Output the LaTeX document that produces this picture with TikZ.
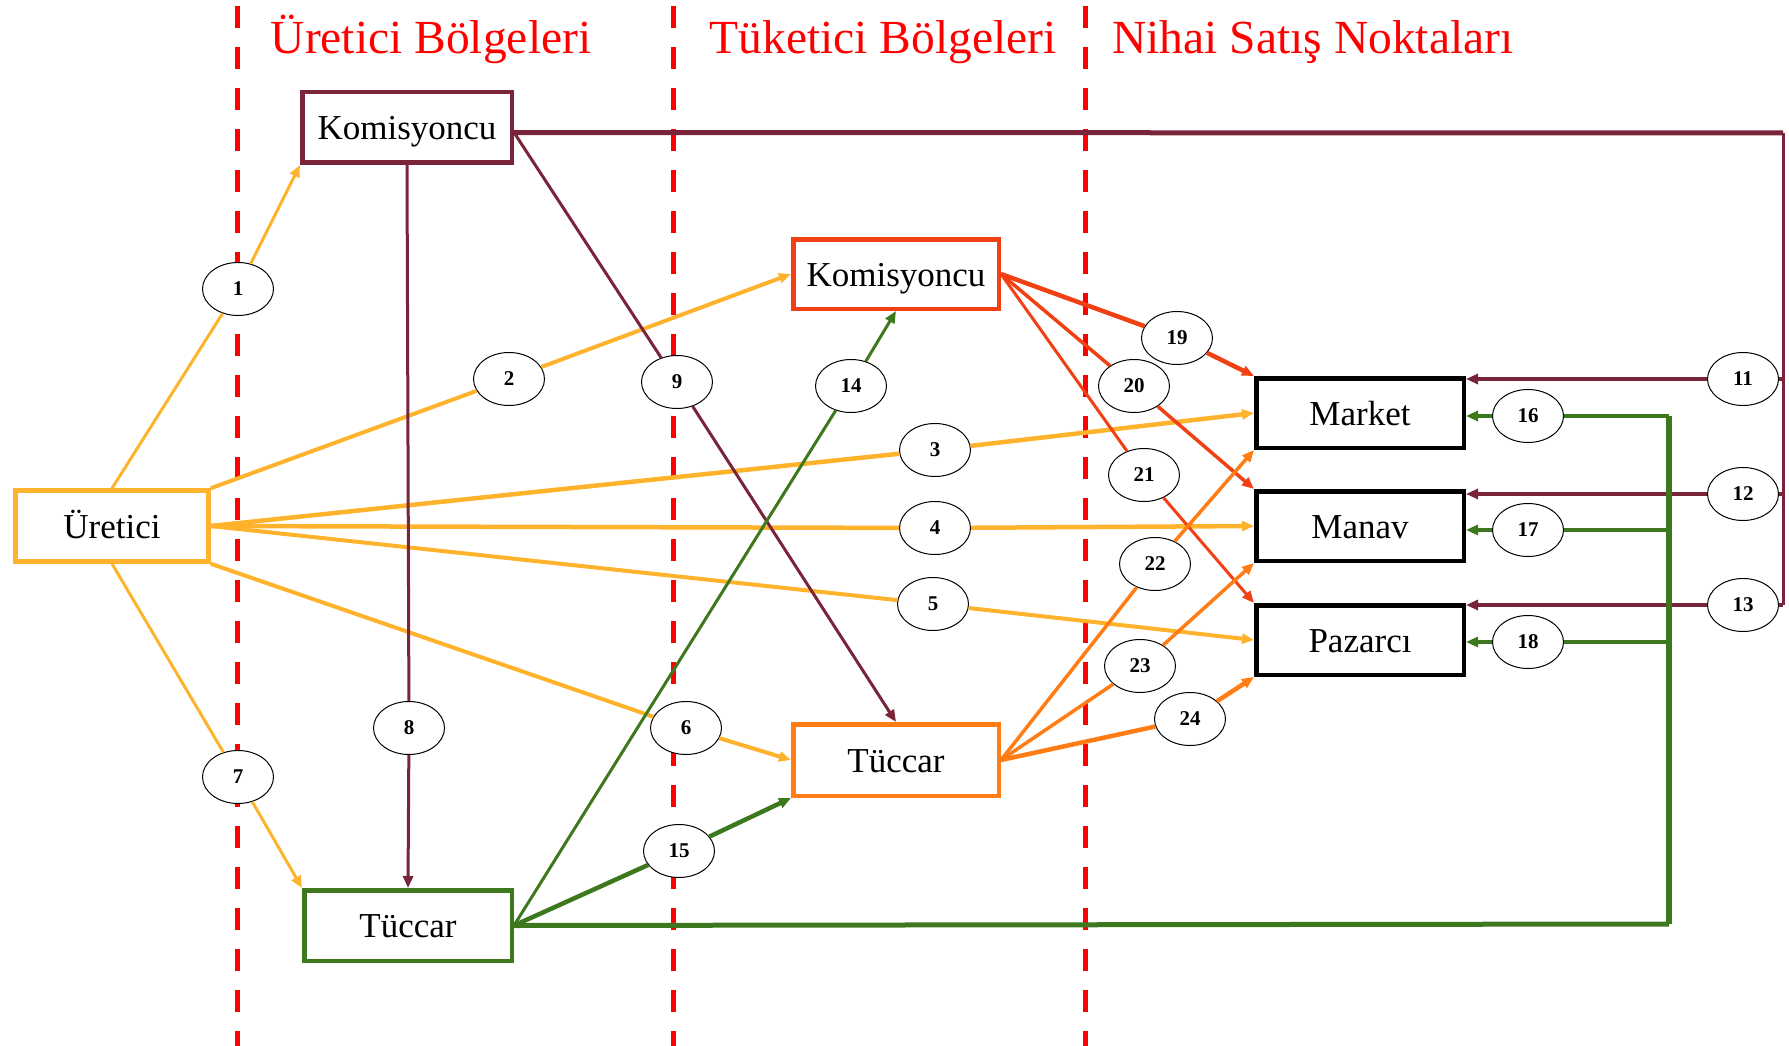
\documentclass[tikz,border=0pt]{standalone}
\usepackage{fontspec}
\setmainfont{Liberation Serif}
\usetikzlibrary{arrows.meta,calc,shapes.geometric}

\definecolor{sari}{RGB}{255,178,44}
\definecolor{bordo}{RGB}{122,36,58}
\definecolor{kiremit}{RGB}{240,64,20}
\definecolor{turuncu}{RGB}{255,125,20}
\definecolor{yesil}{RGB}{62,120,30}
\definecolor{kirmizi}{RGB}{255,0,0}

\tikzset{
  kutu/.style={draw, line width=4.5pt, fill=white, inner sep=0pt, minimum width=207.5pt, minimum height=69.5pt, text height=24pt, text depth=0pt, font=\fontsize{35}{40}\selectfont},
  numara/.style={ellipse, draw=black, line width=1pt, fill=white, inner sep=0pt, minimum width=71pt, minimum height=53pt, font=\bfseries\fontsize{21}{24}\selectfont},
  ok/.style={-{Triangle[length=12pt,width=10pt]}},
  baslik/.style={text=kirmizi, anchor=base, inner sep=0pt, font=\fontsize{47.5}{56}\selectfont},
  sinir/.style={draw=kirmizi, line width=5pt, dash pattern=on 22pt off 19pt},
}

\begin{document}
\begin{tikzpicture}[x=1pt,y=1pt,yscale=-1,xscale=1]
\useasboundingbox (0,0) rectangle (1789,1046);

%Dashed Lines
\draw[sinir] (237,6) -- (237,1046);
\draw[sinir] (673,6) -- (673,1046);
\draw[sinir] (1085,6) -- (1085,1046);

% Text Node
\node[baslik] (bas1) at (431,54) {Üretici Bölgeleri};
\node[baslik] (bas2) at (883,54) {Tüketici Bölgeleri};
\node[baslik] (bas3) at (1313,54) {Nihai Satış Noktaları};

%Shape: Rectangle
\node[kutu, draw=sari, minimum width=193pt, minimum height=71pt] (ure) at (112,526) {Üretici};
\node[kutu, draw=bordo, minimum width=209.5pt, minimum height=70.5pt] (kom1) at (407,127.5) {Komisyoncu};
\node[kutu, draw=yesil, minimum height=70.5pt] (tuc1) at (408,925.5) {Tüccar};
\node[kutu, draw=kiremit, minimum width=205.5pt] (kom2) at (896,274) {Komisyoncu};
\node[kutu, draw=turuncu, minimum width=205.5pt, minimum height=71.5pt] (tuc2) at (896,760) {Tüccar};
\node[kutu] (market) at (1360,413) {Market};
\node[kutu] (manav) at (1360,526) {Manav};
\node[kutu] (pazarci) at (1360,640) {Pazarcı};

%Shape: Ellipse
\node[numara] (c1) at (238,289) {1};
\node[numara] (c2) at (509,379) {2};
\node[numara] (c3) at (935,450) {3};
\node[numara] (c4) at (935,528) {4};
\node[numara] (c5) at (933,604) {5};
\node[numara] (c6) at (686,728) {6};
\node[numara] (c7) at (238,777) {7};
\node[numara] (c8) at (409,728) {8};
\node[numara] (c9) at (677,382) {9};
\node[numara] (c11) at (1743,379) {11};
\node[numara] (c12) at (1743,494) {12};
\node[numara] (c13) at (1743,605) {13};
\node[numara] (c14) at (851,386) {14};
\node[numara] (c15) at (679,851) {15};
\node[numara] (c16) at (1528,416) {16};
\node[numara] (c17) at (1528,530) {17};
\node[numara] (c18) at (1528,642) {18};
\node[numara] (c19) at (1177,338) {19};
\node[numara] (c20) at (1134,386) {20};
\node[numara] (c21) at (1144,475) {21};
\node[numara] (c22) at (1155,564) {22};
\node[numara] (c23) at (1140,666) {23};
\node[numara] (c24) at (1190,719) {24};

\coordinate (k1e) at ($(kom1.east)+(0,5)$);
\coordinate (kr) at (1783,133);
\coordinate (gv) at (1669,924);

%Straight Lines
\draw[ok, sari, line width=3pt] (ure.north) -- (c1) -- (kom1.south west);
\draw[ok, sari, line width=4pt] (ure.north east) -- (c2) -- (kom2.west);
\draw[ok, sari, line width=4.5pt] (ure.east) -- (c3) -- (market.west);
\draw[ok, sari, line width=4.5pt] (ure.east) -- (c4) -- (manav.west);
\draw[ok, sari, line width=4pt] (ure.east) -- (c5) -- (pazarci.west);
\draw[ok, sari, line width=4pt] (ure.south east) -- (c6) -- (tuc2.west);
\draw[ok, sari, line width=3pt] (ure.south) -- (c7) -- (tuc1.north west);

%Straight Lines
\draw[ok, bordo, line width=3pt] (kom1.south) -- (c8) -- (tuc1.north);
\draw[ok, bordo, line width=3pt] (k1e) -- (c9) -- (tuc2.north);
\draw[bordo, line width=5pt] (k1e) -- (kr);
\draw[bordo, line width=3pt] (kr) -- (kr |- c13);
\draw[ok, bordo, line width=3.5pt] (kr |- c11) -- (c11) -- (c11 -| market.east);
\draw[ok, bordo, line width=3.5pt] (kr |- c12) -- (c12) -- (c12 -| manav.east);
\draw[ok, bordo, line width=3.5pt] (kr |- c13) -- (c13) -- (c13 -| pazarci.east);

%Straight Lines
\draw[ok, yesil, line width=3pt] (tuc1.east) -- (c14) -- (kom2.south);
\draw[ok, yesil, line width=4.5pt] (tuc1.east) -- (c15) -- (tuc2.south west);
\draw[yesil, line width=5pt] (tuc1.east) -- (gv);
\draw[yesil, line width=6pt] (gv) -- (gv |- c16);
\draw[ok, yesil, line width=3.5pt] (gv |- c16) -- (c16) -- (c16 -| market.east);
\draw[ok, yesil, line width=3.5pt] (gv |- c17) -- (c17) -- (c17 -| manav.east);
\draw[ok, yesil, line width=3.5pt] (gv |- c18) -- (c18) -- (c18 -| pazarci.east);

%Straight Lines
\draw[ok, kiremit, line width=4.5pt] (kom2.east) -- (c19) -- (market.north west);
\draw[ok, kiremit, line width=3.5pt] (kom2.east) -- (c20) -- (manav.north west);
\draw[ok, kiremit, line width=3pt] (kom2.east) -- (c21) -- (pazarci.north west);

%Straight Lines
\draw[ok, turuncu, line width=3.5pt] (tuc2.east) -- (c22) -- (market.south west);
\draw[ok, turuncu, line width=3.5pt] (tuc2.east) -- (c23) -- (manav.south west);
\draw[ok, turuncu, line width=4.5pt] (tuc2.east) -- (c24) -- (pazarci.south west);

\end{tikzpicture}
\end{document}
